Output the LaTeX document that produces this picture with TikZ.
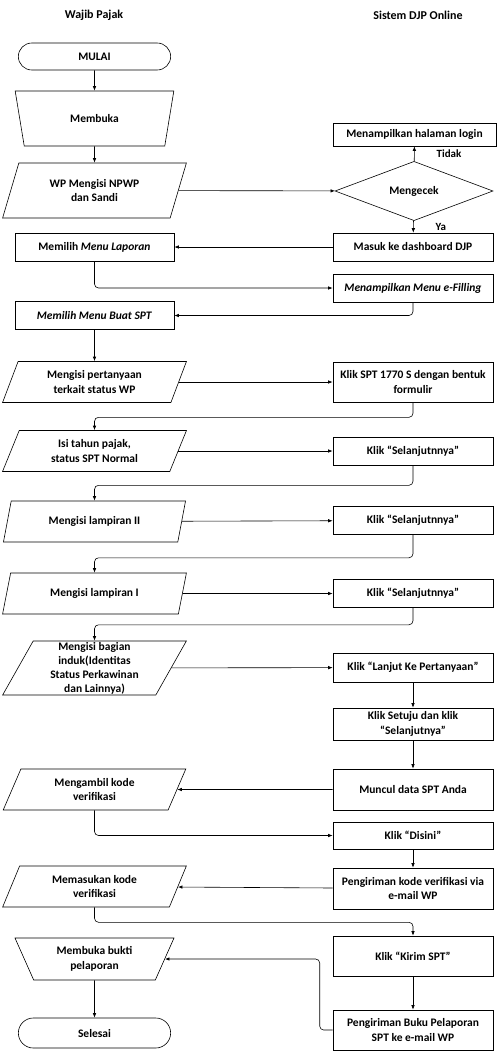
\documentclass[tikz,border=0pt]{standalone}
\usepackage{fontspec}
\setmainfont{Carlito}
\usetikzlibrary{shapes,arrows,arrows.meta}
\tikzstyle{block} = [draw, rectangle, minimum width=160, minimum height=28, align=center, inner sep=1pt]
\tikzstyle{io} = [draw, trapezium, trapezium left angle=67, trapezium right angle=113, trapezium stretches=true, minimum width=184, minimum height=41, align=center, inner sep=0pt]
\tikzstyle{manual} = [draw, trapezium, trapezium left angle=69, trapezium right angle=69, shape border rotate=180, trapezium stretches=true, minimum width=159, minimum height=55, align=center, inner sep=0pt]
\tikzstyle{terminal} = [draw, rounded rectangle, minimum width=159, minimum height=27]
\tikzstyle{decision} = [draw, diamond, minimum width=158, minimum height=54, inner sep=0pt]
\tikzstyle{title} = [font=\fontsize{12}{14}\selectfont\bfseries]
\tikzstyle{lbl} = [font=\fontsize{11}{13}\selectfont\bfseries, inner sep=0pt]
\tikzstyle{line} = [draw, -{Latex[length=4.5pt,width=3.5pt]}]

\begin{document}
\begin{tikzpicture}[x=1pt,y=-1pt,line width=0.6pt,rounded corners=0pt,
	font=\fontsize{11.5}{14.5}\selectfont\bfseries]
	\useasboundingbox (0,0) rectangle (500,1053);

	% column titles
	\node [title] (t1) at (94,15) {Wajib Pajak};
	\node [title] (t2) at (418,15) {Sistem DJP Online};

	% left column (Wajib Pajak)
	\node [terminal] (start) at (94.5,56.5) {MULAI};
	\node [manual] (open) at (94.5,118.5) {Membuka};
	\node [io,minimum height=55] (login) at (94.5,190.5) {WP Mengisi NPWP\\dan Sandi};
	\node [block,minimum width=159] (menu1) at (94.5,247) {Memilih \textit{Menu Laporan}};
	\node [block,minimum width=159] (menu2) at (94.5,315.5) {\textit{Memilih Menu Buat SPT}};
	\node [io] (q1) at (94.5,382) {Mengisi pertanyaan\\terkait status WP};
	\node [io] (q2) at (94.5,451) {Isi tahun pajak,\\status SPT Normal};
	\node [io] (q3) at (94.5,521.5) {Mengisi lampiran II};
	\node [io] (q4) at (94.5,593.5) {Mengisi lampiran I};
	\node [io,minimum height=54,font=\fontsize{11.5}{14}\selectfont\bfseries] (q5) at (94.5,668) {Mengisi bagian\\induk(Identitas\\Status Perkawinan\\dan Lainnya)};
	\node [io] (q6) at (94.5,789.5) {Mengambil kode\\verifikasi};
	\node [io] (q7) at (94.5,886.5) {Memasukan kode\\verifikasi};
	\node [manual,trapezium left angle=64.5,trapezium right angle=64.5,minimum height=42] (proof) at (94.5,959) {Membuka bukti\\pelaporan};
	\node [terminal,minimum height=30] (stop) at (94.5,1033) {Selesai};

	% right column (Sistem DJP Online)
	\node [block,minimum width=163,minimum height=23] (fail) at (414.5,134.5) {Menampilkan halaman login};
	\node [decision] (check) at (414,191) {Mengecek};
	\node [block] (dash) at (413,247) {Masuk ke dashboard DJP};
	\node [block] (efil) at (413,288) {\textit{Menampilkan Menu e-Filling}};
	\node [block,minimum height=40] (r1) at (413,382) {Klik SPT 1770 S dengan bentuk\\formulir};
	\node [block] (r2) at (413,451) {Klik “Selanjutnnya”};
	\node [block] (r3) at (413,520.5) {Klik “Selanjutnnya”};
	\node [block] (r4) at (413,593.5) {Klik “Selanjutnnya”};
	\node [block,minimum height=29] (r5) at (413,667.5) {Klik “Lanjut Ke Pertanyaan”};
	\node [block,minimum height=32] (r6) at (413,724) {Klik Setuju dan klik\\“Selanjutnya”};
	\node [block,minimum height=41] (r7) at (413,789.5) {Muncul data SPT Anda};
	\node [block,minimum height=27] (r8) at (413,835.5) {Klik “Disini”};
	\node [block,minimum height=41] (r9) at (413,888.5) {Pengiriman kode verifikasi via\\e-mail WP};
	\node [block,minimum height=40] (r10) at (413,956) {Klik “Kirim SPT”};
	\node [block,minimum height=40] (r11) at (413,1030) {Pengiriman Buku Pelaporan\\SPT ke e-mail WP};

	% login part
	\path [line] (start) -- (open);
	\path [line] (open) -- (login);
	\path [line] (login) -- (check);
	\path [line] (check) -- node[lbl,right=22pt] {Tidak} (fail);
	\path [line] (check) -- node[lbl,right=22pt] {Ya} (dash);
	\path [line] (dash) -- (menu1);
	\path [line,rounded corners=4pt] (menu1) |- (efil);
	\path [line,rounded corners=4pt] (efil) |- (menu2);
	\path [line] (menu2) -- (q1);

	% filling the SPT
	\path [line] (q1) -- (r1);
	\path [line,rounded corners=4pt] (r1.south) -- ++(0,15) -| (q2.north);
	\path [line] (q2) -- (r2);
	\path [line,rounded corners=4pt] (r2.south) -- ++(0,20) -| (q3.north);
	\path [line] (q3) -- (r3);
	\path [line,rounded corners=4pt] (r3.south) -- ++(0,23) -| (q4.north);
	\path [line] (q4) -- (r4);
	\path [line,rounded corners=4pt] (r4.south) -- ++(0,17) -| (q5.north);
	\path [line] (q5) -- (r5);
	\path [line] (r5) -- (r6);
	\path [line] (r6) -- (r7);

	% verification and sending
	\path [line] (r7) -- (q6);
	\path [line,rounded corners=4pt] (q6) |- (r8);
	\path [line] (r8) -- (r9);
	\path [line] (r9) -- (q7);
	\path [line,rounded corners=4pt] (q7.south) -- ++(0,15) -| (r10.north);
	\path [line] (r10) -- (r11);
	\path [line,rounded corners=4pt] (r11.west) -- ++(-13,0) |- (proof.east);
	\path [line] (proof) -- (stop);

\end{tikzpicture}
\end{document}
